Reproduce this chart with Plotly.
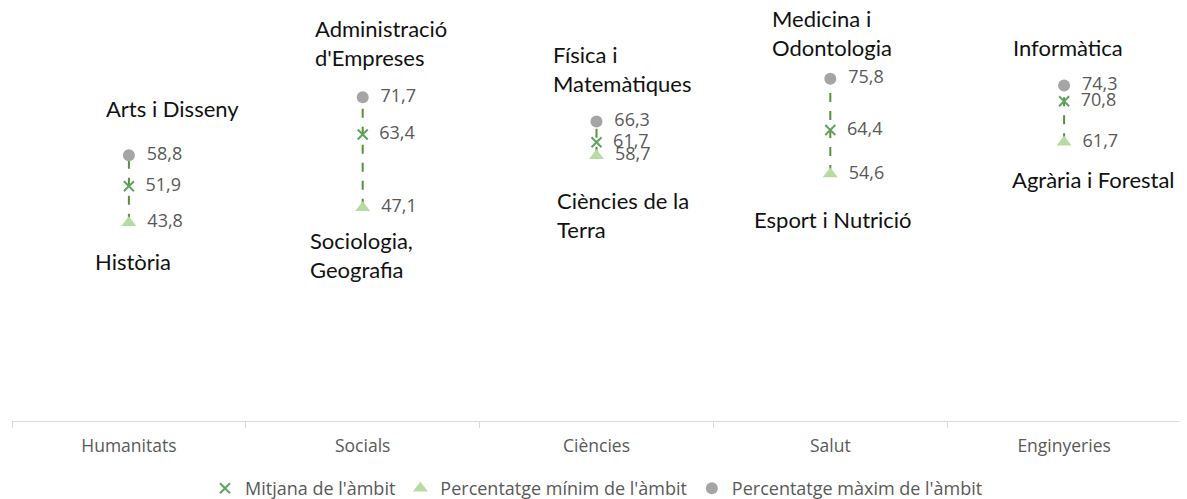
import plotly.graph_objects as go

categories = ["Humanitats", "Socials", "Ciències", "Salut", "Enginyeries"]
mean_vals = [51.9, 63.4, 61.7, 64.4, 70.8]
min_vals = [43.8, 47.1, 58.7, 54.6, 61.7]
max_vals = [58.8, 71.7, 66.3, 75.8, 74.3]
max_labels = ["Arts i Disseny", "Administració<br>d'Empreses", "Física i<br>Matemàtiques",
              "Medicina i<br>Odontologia", "Informàtica"]
min_labels = ["Història", "Sociologia,<br>Geografia", "Ciències de la<br>Terra",
              "Esport i Nutrició", "Agrària i Forestal"]

def fmt(v):
    return "\u00a0\u00a0" + f"{v:.1f}".replace(".", ",")

VAL_FONT = dict(family="Open Sans", size=18, color="#595959")

fig = go.Figure()

# dashed range lines
for c, lo, hi in zip(categories, min_vals, max_vals):
    fig.add_trace(go.Scatter(x=[c, c], y=[lo, hi], mode="lines",
                             line=dict(color="#5B8F3A", width=2, dash="dash"),
                             showlegend=False, hoverinfo="skip"))

fig.add_trace(go.Scatter(x=categories, y=mean_vals, mode="markers+text",
                         name="Mitjana de l'àmbit",
                         marker=dict(symbol="x-thin", size=10, color="#5FA35F",
                                     line=dict(color="#5FA35F", width=2)),
                         text=[fmt(v) for v in mean_vals], textposition="middle right",
                         textfont=VAL_FONT))
fig.add_trace(go.Scatter(x=categories, y=min_vals, mode="markers+text",
                         name="Percentatge mínim de l'àmbit",
                         marker=dict(symbol="triangle-up", size=13, color="#B7DBA3"),
                         text=[fmt(v) for v in min_vals], textposition="middle right",
                         textfont=VAL_FONT))
fig.add_trace(go.Scatter(x=categories, y=max_vals, mode="markers+text",
                         name="Percentatge màxim de l'àmbit",
                         marker=dict(symbol="circle", size=12, color="#A5A5A5"),
                         text=[fmt(v) for v in max_vals], textposition="middle right",
                         textfont=VAL_FONT))

# subject labels (pixel offsets from the marker)
max_off = [(-25, 47), (-50, 54), (-46, 53), (-60, 46), (-53, 38)]
min_off = [(-36, -39), (-55, -47), (-42, -59), (-78, -45), (-54, -37)]
LAB_FONT = dict(family="Lato", size=22, color="#111111")
for c, v, t, (dx, dy) in zip(categories, max_vals, max_labels, max_off):
    fig.add_annotation(x=c, y=v, text=t, showarrow=False, xanchor="left", yanchor="middle",
                       align="left", xshift=dx, yshift=dy, font=LAB_FONT)
for c, v, t, (dx, dy) in zip(categories, min_vals, min_labels, min_off):
    fig.add_annotation(x=c, y=v, text=t, showarrow=False, xanchor="left", yanchor="middle",
                       align="left", xshift=dx, yshift=dy, font=LAB_FONT)

# page body adds an 8px offset; margins compensate for it
fig.update_layout(
    width=1187, height=499,
    margin=dict(l=4, r=14, t=4, b=86, autoexpand=False),
    plot_bgcolor="white", paper_bgcolor="white",
    showlegend=True,
    legend=dict(orientation="h", x=0.5, xanchor="center", y=-0.165, yanchor="middle",
                font=dict(family="Open Sans", size=18, color="#595959"),
                itemwidth=30, tracegroupgap=0),
    xaxis=dict(type="category", categoryorder="array", categoryarray=categories,
               range=[-0.5, 4.5], automargin=False,
               showline=True, linecolor="#D9D9D9", linewidth=1,
               ticks="outside", tickson="boundaries", ticklen=6, tickcolor="#D9D9D9",
               ticklabelstandoff=9,
               showgrid=False, tickfont=dict(family="Open Sans", size=17.5, color="#595959"),
               fixedrange=True),
    yaxis=dict(range=[-0.333, 90.667], visible=False, showgrid=False, zeroline=False,
               automargin=False),
)

fig.write_html("out.html")
